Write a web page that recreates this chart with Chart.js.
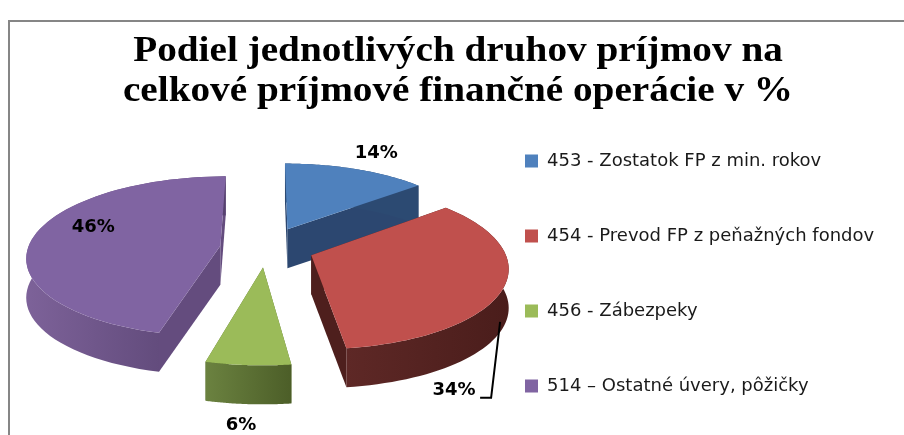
<!DOCTYPE html>
<html><head><meta charset="utf-8">
<style>
html,body{margin:0;padding:0;background:#fff;}
#frame{position:absolute;left:8px;top:20px;width:896px;height:415px;border-left:2px solid #868686;border-top:2px solid #868686;box-sizing:border-box;}
#wrap{position:absolute;left:0;top:0;width:904px;height:435px;}
</style>
<script src="https://cdn.jsdelivr.net/npm/chart.js@4/dist/chart.umd.min.js"></script>
</head><body>
<div id="frame"></div>
<div id="wrap"><canvas id="c" width="904" height="435"></canvas></div>
<script>
const titleLines = ["Podiel jednotlivých druhov príjmov na", "celkové príjmové finančné operácie v %"];
const categories = ["453 - Zostatok FP z min. rokov", "454 - Prevod FP z peňažných fondov", "456 - Zábezpeky", "514 – Ostatné úvery, pôžičky"];
const values = [14, 34, 6, 46];
const topColors = ["#4f81bd", "#c0504d", "#9bbb59", "#8064a2"];
const wallFrom = ["#2c4a72", "#5e2826", "#6b8240", "#7d6299"];
const wallTo = ["#2c4a72", "#4a1d1b", "#4c5e28", "#56416f"];
const radialWall = ["#2c4770", "#4e1f1d", "#58702f", "#644c7e"];
const explode = [0.27, 0.25, 0.24, 0.24];
const labelNudge = [[20,-16], [-50,104], [-7,60], [59,-9]];

const cam = {cx:266, cy:248, rx:1.345, ry:0.553, k:0.133, depth:39};

function project(el, i, theta, r){
  const mid = (el.startAngle + el.endAngle)/2 + Math.PI/2;
  const X = explode[i]*Math.sin(mid) + r*Math.sin(theta);
  const Y = explode[i]*Math.cos(mid) + r*Math.cos(theta);
  const w = 1 + cam.k*Y;
  return {x: cam.cx + el.outerRadius*cam.rx*X/w, y: cam.cy - el.outerRadius*cam.ry*Y/w};
}
function arcPts(el,i){
  const a0 = el.startAngle+Math.PI/2, a1 = el.endAngle+Math.PI/2, n = 60, pts=[];
  for(let s=0;s<=n;s++){ pts.push(project(el,i,a0+(a1-a0)*s/n,1)); }
  return pts;
}
const pie3d = {
  id:'pie3d',
  afterLayout(chart){
    const lg = chart.legend, h = lg.height;
    lg.left = 468; lg.right = 468 + lg.width;
    lg.top = 56; lg.bottom = 56 + h;
    const tb = chart.titleBlock;
    if(!tb._wide){
      const orig = tb.draw;
      tb.draw = function(){
        const ctx = chart.ctx, mx = 458, sx = 1.09;
        ctx.save(); ctx.translate(mx,0); ctx.scale(sx,1); ctx.translate(-mx,0);
        ctx.letterSpacing='0px';
        orig.call(this);
        ctx.restore();
      };
      tb._wide = true;
    }
  },
  beforeDatasetDraw(chart,args){
    const ctx = chart.ctx, meta = args.meta, d = cam.depth;
    [0,3,1,2].forEach(i=>{
      const el = meta.data[i], pts = arcPts(el,i), c = project(el,i,0,0);
      [pts[0],pts[pts.length-1]].forEach(p=>{
        ctx.beginPath(); ctx.moveTo(c.x,c.y); ctx.lineTo(p.x,p.y); ctx.lineTo(p.x,p.y+d); ctx.lineTo(c.x,c.y+d); ctx.closePath();
        ctx.fillStyle = radialWall[i]; ctx.fill();
      });
      const xs = pts.map(p=>p.x), g = ctx.createLinearGradient(Math.min(...xs),0,Math.max(...xs),0);
      g.addColorStop(0,wallFrom[i]); g.addColorStop(1,wallTo[i]);
      ctx.beginPath();
      pts.forEach((p,s)=> s?ctx.lineTo(p.x,p.y):ctx.moveTo(p.x,p.y));
      for(let s=pts.length-1;s>=0;s--) ctx.lineTo(pts[s].x,pts[s].y+d);
      ctx.closePath(); ctx.fillStyle=g; ctx.fill();
      ctx.beginPath(); ctx.moveTo(c.x,c.y); pts.forEach(p=>ctx.lineTo(p.x,p.y)); ctx.closePath();
      ctx.fillStyle = topColors[i]; ctx.fill();
    });
    return false;
  },
  afterDatasetsDraw(chart){
    const ctx = chart.ctx, meta = chart.getDatasetMeta(0);
    ctx.save();
    ctx.font = 'bold 18px "DejaVu Sans"'; ctx.fillStyle='#000'; ctx.textAlign='center'; ctx.textBaseline='middle';
    let red=null;
    meta.data.forEach((el,i)=>{
      const mid=(el.startAngle+el.endAngle)/2+Math.PI/2, p=project(el,i,mid,1);
      const x=p.x+labelNudge[i][0], y=p.y+labelNudge[i][1];
      ctx.fillText(values[i]+'%',x,y);
      if(i===1) red={x,y};
    });
    ctx.strokeStyle='#000'; ctx.lineWidth=2;
    ctx.beginPath(); ctx.moveTo(red.x+46,red.y-69); ctx.lineTo(red.x+37,red.y+7); ctx.lineTo(red.x+26,red.y+7); ctx.stroke();
    ctx.restore();
  }
};
new Chart(document.getElementById('c'),{
  type:'pie',
  data:{labels:categories,datasets:[{data:values,backgroundColor:topColors,borderWidth:0,radius:143}]},
  options:{
    responsive:false,animation:false,
    layout:{padding:{left:12,top:0,right:0,bottom:0}},
    plugins:{
      title:{display:true,text:titleLines,color:'#000',font:{family:'Liberation Serif',size:36,weight:'bold',lineHeight:1.11},padding:{top:32,bottom:10}},
      legend:{position:'right',labels:{boxWidth:13,boxHeight:13,padding:57,color:'#1a1a1a',font:{family:'DejaVu Sans',size:18}}},
      tooltip:{enabled:false}
    }
  },
  plugins:[pie3d]
});
</script>
</body></html>
